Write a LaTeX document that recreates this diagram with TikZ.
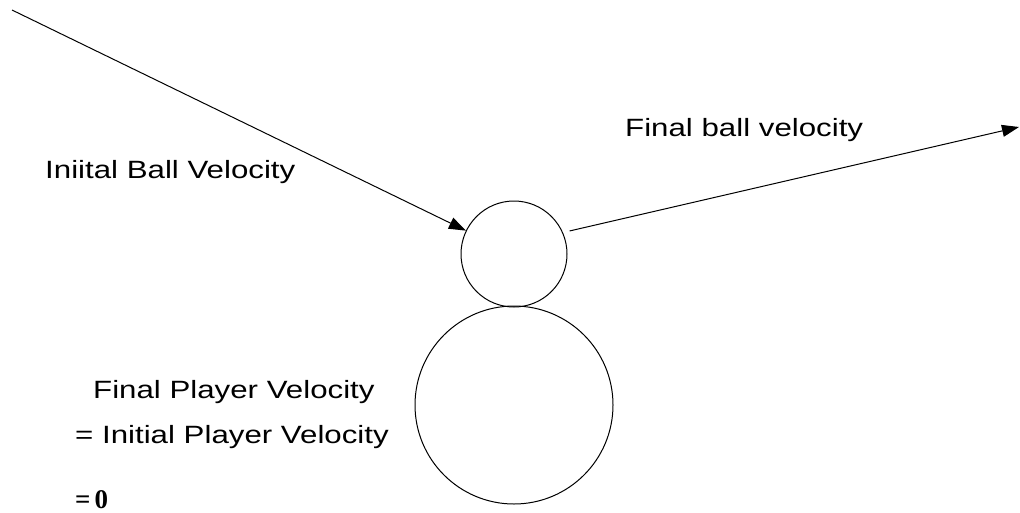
\documentclass[tikz,border=0pt]{standalone}
\usepackage{fontspec}
\setmainfont[FakeStretch=1.25]{Liberation Sans}
\newfontfamily\eqfont{Liberation Serif}
\usetikzlibrary{arrows.meta}

\begin{document}
\begin{tikzpicture}[x=1pt, y=-1pt,
    body/.style={draw, circle, line width=1pt, inner sep=0pt},
    vel/.style={line width=1pt, -{Triangle[length=17pt, width=12pt]}},
    lbl/.style={anchor=base west, inner sep=0pt, font=\fontsize{25}{30}\selectfont}]
  \useasboundingbox (0,0) rectangle (1020,512);

  % ball and player
  \node[body, minimum size=106pt] (ball) at (514,254) {};
  \node[body, minimum size=198pt] (player) at (514,405) {};

  % velocities
  \coordinate (ballin) at (12,10);
  \coordinate (ballout) at (1019,127);
  \draw[vel] (ballin) -- (ball);
  \draw[vel] ([shift={(6,-3)}]ball.22) -- (ballout);

  % labels
  \node[lbl] (initlbl) at (45,178) {Iniital Ball Velocity};
  \node[lbl] (finallbl) at (625,136) {Final ball velocity};
  \node[lbl] (plylbl) at (93,398) {Final Player Velocity};
  \node[lbl] (initply) at (75,443) {= Initial Player Velocity};
  \node[lbl, font=\fontsize{27}{30}\selectfont\eqfont\bfseries] (zero) at (75,508) {=\kern4pt0};
\end{tikzpicture}
\end{document}
